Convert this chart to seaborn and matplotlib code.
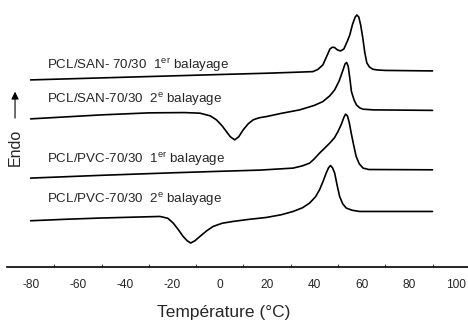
import numpy as np
import pandas as pd
import seaborn as sns
import matplotlib.pyplot as plt

# DSC traces (temperature in degC, heat flow in arbitrary offset units)
t_san1 = [-80, -40, 0, 20, 30, 39.4, 41.5, 43.6, 45.5, 46.6, 47.6, 48.5, 49.8, 51.1, 52.5, 54, 55,
          56.2, 57.3, 58, 58.8, 59.6, 60.5, 61.3, 62.2, 63.3, 64.7, 66.5, 70, 90]
q_san1 = [18.7, 18.97, 19.24, 19.37, 19.45, 19.53, 19.75, 20.2, 21.2, 21.8, 21.97, 21.95, 21.7, 21.6,
          21.8, 22.6, 23.2, 24.3, 25.0, 25.2, 25.0, 24.2, 22.9, 21.5, 20.4, 20.0, 19.77, 19.7, 19.65, 19.6]

t_san2 = [-80, -65, -50, -30, -15, -8.4, -4, -1.4, 1, 2.8, 4.5, 6.3, 8, 9.9, 12, 14.1, 16.5, 19.7,
          26, 33.8, 40, 43.6, 46.5, 48.6, 50.5, 52, 53, 53.6, 54.3, 55, 55.7, 56.8, 57.8, 59.2, 60.6,
          65, 90]
q_san2 = [14.8, 15.0, 15.2, 15.4, 15.43, 15.37, 15.1, 14.7, 14.1, 13.53, 13.0, 12.7, 13.0, 13.7, 14.3,
          14.7, 14.9, 15.03, 15.35, 15.7, 16.15, 16.53, 17.1, 17.7, 18.6, 19.6, 20.3, 20.45, 20.1, 18.9,
          17.53, 16.7, 16.2, 15.9, 15.77, 15.7, 15.65]

t_pvc1 = [-80, -50, -20, 0, 16.9, 31, 35, 38, 40, 42.2, 44.5, 46.5, 48.5, 50, 51.5, 52.5, 53.2, 54,
          54.8, 55.6, 56.7, 57.7, 59, 60.6, 63, 90]
q_pvc1 = [8.87, 9.15, 9.4, 9.55, 9.67, 9.87, 10.1, 10.37, 10.8, 11.37, 11.9, 12.37, 12.9, 13.53, 14.3,
          14.95, 15.27, 15.1, 14.4, 13.37, 12.1, 11.03, 10.3, 9.87, 9.73, 9.7]

t_pvc2 = [-80, -65, -50.7, -35, -25.3, -22, -19.7, -17.5, -15.5, -13.8, -12.3, -10.5, -8.4, -5.5,
          -2.8, 1, 5.6, 12, 19.7, 26, 31, 35, 38, 40.5, 42.2, 43.8, 45, 46, 46.8, 47.7, 48.6, 49.6,
          50.7, 52, 53.5, 56, 59.1, 90]
q_pvc2 = [4.6, 4.75, 4.87, 4.97, 5.03, 4.85, 4.37, 3.7, 3.03, 2.6, 2.37, 2.6, 3.03, 3.6, 4.03, 4.35,
          4.53, 4.73, 4.93, 5.2, 5.53, 5.9, 6.37, 7.0, 7.7, 8.6, 9.37, 9.9, 10.13, 9.9, 9.37, 8.2, 7.03,
          6.3, 5.87, 5.65, 5.53, 5.53]

labels = [r'PCL/SAN- 70/30  1$^{\mathrm{er}}$ balayage',
          r'PCL/SAN-70/30  2$^{\mathrm{e}}$ balayage',
          r'PCL/PVC-70/30  1$^{\mathrm{er}}$ balayage',
          r'PCL/PVC-70/30  2$^{\mathrm{e}}$ balayage']
label_y = [20.2, 16.7, 10.8, 6.7]

sns.set_style('white')
plt.rcParams['font.family'] = ['Liberation Sans', 'DejaVu Sans']
plt.rcParams['mathtext.fontset'] = 'custom'
plt.rcParams['mathtext.rm'] = 'Liberation Sans'
plt.rcParams['axes.unicode_minus'] = False

traces = [(t_san1, q_san1), (t_san2, q_san2), (t_pvc1, q_pvc1), (t_pvc2, q_pvc2)]
df = pd.concat([pd.DataFrame({'T': t, 'Q': q, 'run': i}) for i, (t, q) in enumerate(traces)])

fig = plt.figure(figsize=(4.68, 3.27), dpi=100)
ax = fig.add_axes([7 / 468, 1 - 266.7 / 327, 1 - 7 / 468, 266.7 / 327])

sns.lineplot(data=df, x='T', y='Q', units='run', estimator=None, sort=False,
             color='black', linewidth=1.2, ax=ax)

for lab, y in zip(labels, label_y):
    ax.text(-73, y, lab, fontsize=9.6, va='center', ha='left')

# "Endo" direction marker
ax.annotate('', xy=(-86.6, 17.8), xytext=(-86.6, 14.6),
            arrowprops=dict(arrowstyle='-|>', color='black', lw=0.8, mutation_scale=11))
ax.text(-86.6, 11.9, 'Endo', rotation=90, fontsize=11.5, ha='center', va='center')

ax.set_xlim(-90, 105)
ax.set_ylim(0, 26.7)
ax.set_xticks(np.arange(-80, 101, 20))
ax.set_xticks(np.arange(-70, 101, 20), minor=True)
ax.tick_params(axis='x', which='major', direction='in', length=3, width=0.8, pad=9, labelsize=8.6)
ax.tick_params(axis='x', which='minor', direction='in', length=2, width=0.6, bottom=True)
ax.set_yticks([])
ax.set_xlabel('Température (°C)', fontsize=12.5)
ax.xaxis.set_label_coords(0.47, -0.145)
ax.set_ylabel('')
for side in ['top', 'left', 'right']:
    ax.spines[side].set_visible(False)
ax.spines['bottom'].set_linewidth(1.2)
ax.spines['bottom'].set_color('black')

fig.savefig('out.png', dpi=100)
